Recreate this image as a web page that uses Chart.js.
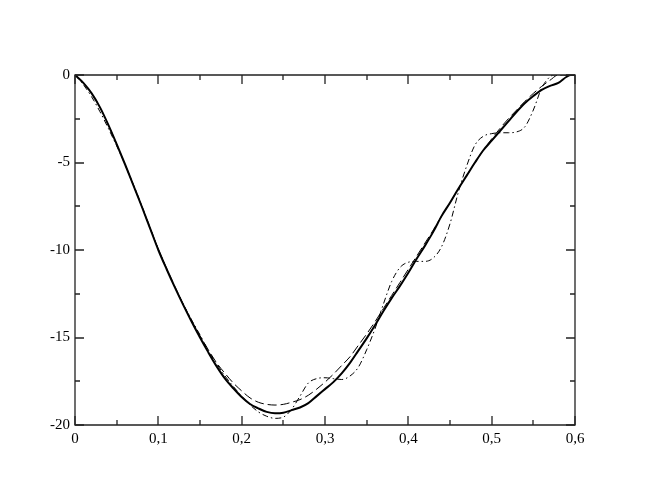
<!DOCTYPE html>
<html>
<head>
<meta charset="utf-8">
<script src="https://cdn.jsdelivr.net/npm/chart.js@4.4.0/dist/chart.umd.min.js"></script>
<style>
html,body{margin:0;padding:0;background:#fff;}
#wrap{width:648px;height:501px;}
</style>
</head>
<body>
<div id="wrap"><canvas id="c" width="648" height="501"></canvas></div>
<script>
// ---- data ----
const solidX = [0,0.01,0.02,0.03,0.04,0.05,0.06,0.07,0.08,0.09,0.10,0.11,0.12,0.13,0.14,0.15,0.16,0.17,0.18,0.19,0.20,0.21,0.22,0.23,0.24,0.25,0.26,0.27,0.28,0.29,0.30,0.31,0.32,0.33,0.34,0.35,0.36,0.37,0.38,0.39,0.40,0.41,0.42,0.43,0.44,0.45,0.46,0.47,0.48,0.49,0.50,0.51,0.52,0.53,0.54,0.55,0.56,0.57,0.58,0.59,0.595,0.60];
const solidY = [0,-0.45,-1.05,-1.85,-2.85,-3.95,-5.1,-6.3,-7.5,-8.75,-10.0,-11.1,-12.15,-13.15,-14.1,-15.0,-15.85,-16.65,-17.35,-17.9,-18.4,-18.8,-19.05,-19.25,-19.33,-19.3,-19.15,-19.0,-18.75,-18.35,-17.95,-17.55,-17.05,-16.45,-15.75,-15.05,-14.3,-13.5,-12.75,-12.05,-11.3,-10.5,-9.75,-8.95,-8.05,-7.3,-6.5,-5.75,-5.0,-4.3,-3.75,-3.2,-2.65,-2.1,-1.6,-1.2,-0.85,-0.62,-0.45,-0.1,0,0];

const dashX = [0,0.01,0.02,0.03,0.04,0.05,0.06,0.07,0.08,0.09,0.10,0.11,0.12,0.13,0.14,0.15,0.16,0.17,0.18,0.19,0.20,0.21,0.22,0.23,0.24,0.25,0.26,0.27,0.28,0.29,0.30,0.31,0.32,0.33,0.34,0.35,0.36,0.37,0.38,0.39,0.40,0.41,0.42,0.43,0.44,0.45,0.46,0.47,0.48,0.49,0.50,0.51,0.52,0.53,0.54,0.55,0.56,0.57,0.58,0.60];
const dashY = [0,-0.45,-1.05,-1.85,-2.85,-3.95,-5.1,-6.3,-7.5,-8.75,-9.95,-11.05,-12.1,-13.1,-14.05,-14.9,-15.7,-16.45,-17.05,-17.6,-18.05,-18.45,-18.7,-18.82,-18.86,-18.82,-18.7,-18.55,-18.3,-17.95,-17.55,-17.1,-16.6,-16.1,-15.45,-14.8,-14.1,-13.35,-12.6,-11.85,-11.1,-10.35,-9.6,-8.85,-8.05,-7.3,-6.5,-5.75,-5.0,-4.3,-3.65,-3.05,-2.5,-2.0,-1.5,-1.05,-0.65,-0.3,0,0];

const dotdashX = [0,0.01,0.02,0.03,0.04,0.05,0.06,0.07,0.08,0.09,0.10,0.11,0.12,0.13,0.14,0.15,0.16,0.17,0.18,0.19,0.20,0.21,0.22,0.23,0.24,0.25,0.26,0.27,0.28,0.29,0.30,0.31,0.32,0.33,0.34,0.35,0.36,0.37,0.38,0.39,0.40,0.41,0.42,0.43,0.44,0.45,0.46,0.47,0.48,0.49,0.50,0.51,0.52,0.53,0.54,0.55,0.56,0.57,0.575,0.60];
const dotdashY = [0,-0.55,-1.25,-2.1,-3.05,-4.05,-5.1,-6.25,-7.45,-8.7,-9.95,-11.1,-12.15,-13.1,-14.0,-14.85,-15.75,-16.5,-17.2,-17.8,-18.35,-18.85,-19.25,-19.5,-19.62,-19.55,-19.1,-18.35,-17.6,-17.35,-17.3,-17.35,-17.4,-17.2,-16.7,-15.7,-14.5,-13.1,-11.8,-11.0,-10.7,-10.65,-10.65,-10.45,-9.8,-8.5,-6.7,-5.2,-4.0,-3.5,-3.35,-3.3,-3.3,-3.25,-2.95,-2.0,-0.75,-0.1,0,0];

const xTickLabels = ['0','0,1','0,2','0,3','0,4','0,5','0,6'];
const yTickLabels = ['-20','-15','-10','-5','0'];

function pts(xs, ys){ return xs.map((x,i)=>({x:x,y:ys[i]})); }

const framePlugin = {
  id:'frame',
  afterDatasetsDraw(chart){
    const ctx = chart.ctx, a = chart.chartArea;
    const xs = chart.scales.x, ys = chart.scales.y;
    ctx.save();
    ctx.strokeStyle = '#222';
    ctx.lineWidth = 1.3;
    ctx.beginPath();
    ctx.rect(a.left, a.top, a.right-a.left, a.bottom-a.top);
    ctx.stroke();
    ctx.beginPath();
    for(let v=0; v<=0.6001; v+=0.05){
      const major = Math.abs(v*10 - Math.round(v*10)) < 1e-6;
      const L = major ? 9 : 5;
      const px = Math.round(xs.getPixelForValue(v));
      ctx.moveTo(px, a.bottom); ctx.lineTo(px, a.bottom-L);
      ctx.moveTo(px, a.top); ctx.lineTo(px, a.top+L);
    }
    for(let v=-20; v<=0.001; v+=2.5){
      const major = Math.abs(v/5 - Math.round(v/5)) < 1e-6;
      const L = major ? 9 : 5;
      const py = Math.round(ys.getPixelForValue(v));
      ctx.moveTo(a.left, py); ctx.lineTo(a.left+L, py);
      ctx.moveTo(a.right, py); ctx.lineTo(a.right-L, py);
    }
    ctx.stroke();
    ctx.restore();
  }
};

new Chart(document.getElementById('c'), {
  type:'line',
  data:{
    datasets:[
      {data:pts(solidX,solidY), borderColor:'#000', borderWidth:2, pointRadius:0, cubicInterpolationMode:'monotone', fill:false},
      {data:pts(dashX,dashY), borderColor:'#000', borderWidth:1, borderDash:[9,4], pointRadius:0, cubicInterpolationMode:'monotone', fill:false},
      {data:pts(dotdashX,dotdashY), borderColor:'#000', borderWidth:1, borderDash:[6,3,1.5,3], pointRadius:0, cubicInterpolationMode:'monotone', fill:false}
    ]
  },
  options:{
    responsive:false,
    animation:false,
    devicePixelRatio:1,
    layout:{padding:{left:0,top:75,right:73,bottom:0}},
    plugins:{legend:{display:false}, tooltip:{enabled:false}},
    scales:{
      x:{type:'linear', min:0, max:0.6,
         grid:{display:false, drawTicks:false}, border:{display:false},
         afterBuildTicks(s){ s.ticks = xTickLabels.map((t,i)=>({value:i*0.1})); },
         afterFit(s){ s.height = 76; },
         ticks:{padding:5, maxRotation:0, autoSkip:false, color:'#000',
           font:{family:'"Liberation Serif", "DejaVu Serif", serif', size:15},
           callback:(v,i)=>xTickLabels[i]}
      },
      y:{type:'linear', min:-20, max:0,
         grid:{display:false, drawTicks:false}, border:{display:false},
         afterBuildTicks(s){ s.ticks = yTickLabels.map((t,i)=>({value:-20+i*5})); },
         afterFit(s){ s.width = 75; },
         ticks:{padding:5, autoSkip:false, color:'#000',
           font:{family:'"Liberation Serif", "DejaVu Serif", serif', size:15},
           callback:(v,i)=>yTickLabels[i]}
      }
    }
  },
  plugins:[framePlugin]
});
</script>
</body>
</html>
